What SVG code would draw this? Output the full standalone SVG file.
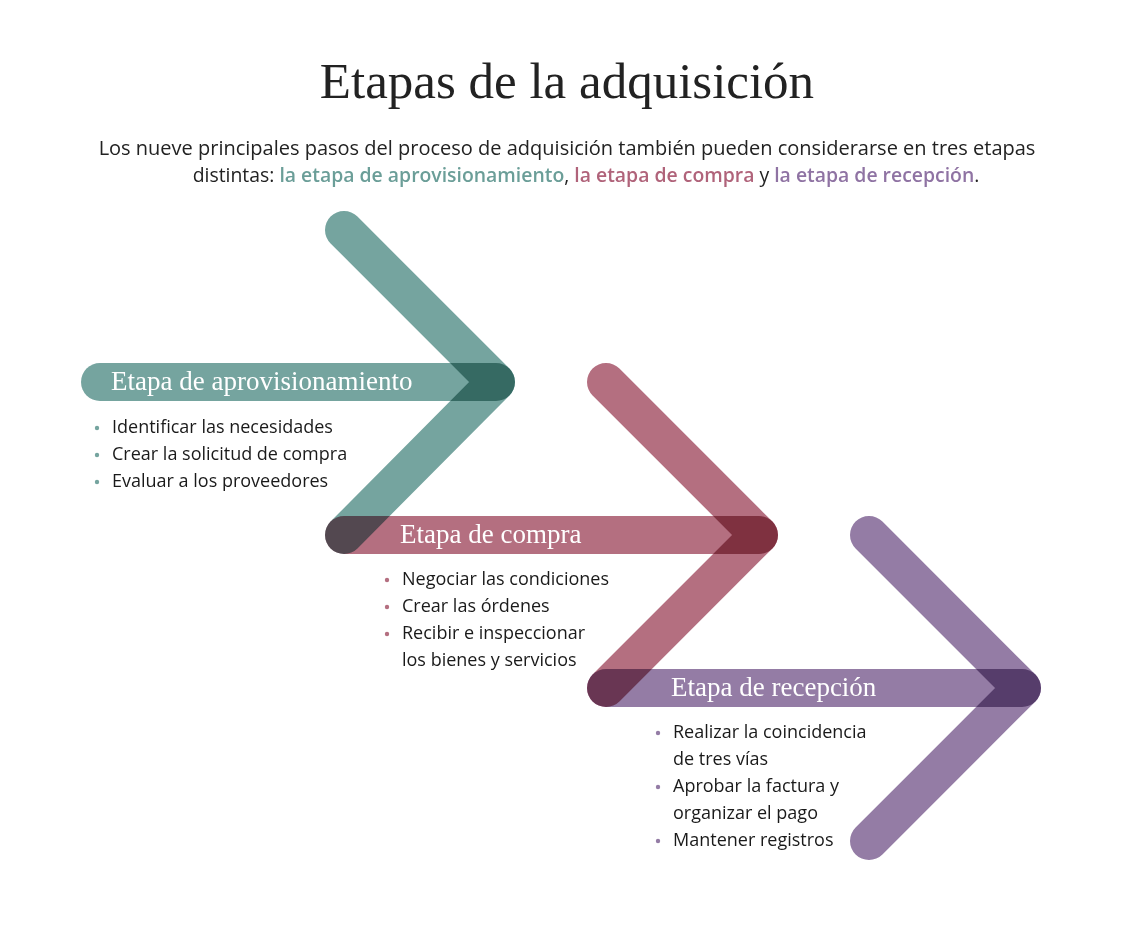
<svg xmlns="http://www.w3.org/2000/svg" width="1133" height="949" viewBox="0 0 1133 949">
<style>
.title{font-family:"Liberation Serif",serif;font-size:51px;fill:#222}
.sub{font-family:"Open Sans","Noto Sans",sans-serif;font-size:20px;fill:#222}
.b{font-weight:600}
.lbl{font-family:"Liberation Serif",serif;font-size:27px;fill:#fff}
.item{font-family:"Open Sans","Noto Sans",sans-serif;font-size:18px;fill:#1a1a1a}
.shape{fill:none;stroke-width:38;stroke-linecap:round;stroke-linejoin:round;mix-blend-mode:multiply}
.teal{stroke:#75a49f}
.pink{stroke:#b46f80}
.purple{stroke:#947ca5}
</style>
<rect width="1133" height="949" fill="#fff"/>
<text class="title" x="567" y="98" text-anchor="middle">Etapas de la adquisición</text>
<text class="sub" x="567" y="155" text-anchor="middle">Los nueve principales pasos del proceso de adquisición también pueden considerarse en tres etapas</text>
<text class="sub" x="586" y="182" text-anchor="middle" style="font-size:19.4px">distintas: <tspan class="b" fill="#6b9e98">la etapa de aprovisionamiento</tspan>, <tspan class="b" fill="#b0637a">la etapa de compra</tspan> y <tspan class="b" fill="#8f73a3">la etapa de recepción</tspan>.</text>
<g id="connectors">
<polyline class="shape teal" points="344,230 496,382 344,535"/>
<polyline class="shape pink" points="606,382 759,535 606,688"/>
<polyline class="shape purple" points="869,535 1022,688 869,841"/>
</g>
<g id="stage-aprovisionamiento">
<line class="shape teal" x1="100" y1="382" x2="496" y2="382"/>
<text class="lbl" x="111" y="390">Etapa de aprovisionamiento</text>
<g fill="#75a49f"><circle cx="97" cy="428" r="2.2"/><circle cx="97" cy="455" r="2.2"/><circle cx="97" cy="482" r="2.2"/></g>
<text class="item" x="112" y="433">Identificar las necesidades</text>
<text class="item" x="112" y="460">Crear la solicitud de compra</text>
<text class="item" x="112" y="487">Evaluar a los proveedores</text>
</g>
<g id="stage-compra">
<line class="shape pink" x1="344" y1="535" x2="759" y2="535"/>
<text class="lbl" x="400" y="543">Etapa de compra</text>
<g fill="#b46f80"><circle cx="387" cy="580" r="2.2"/><circle cx="387" cy="607" r="2.2"/><circle cx="387" cy="634" r="2.2"/></g>
<text class="item" x="402" y="585">Negociar las condiciones</text>
<text class="item" x="402" y="612">Crear las órdenes</text>
<text class="item" x="402" y="639">Recibir e inspeccionar</text>
<text class="item" x="402" y="666">los bienes y servicios</text>
</g>
<g id="stage-recepcion">
<line class="shape purple" x1="606" y1="688" x2="1022" y2="688"/>
<text class="lbl" x="671" y="696">Etapa de recepción</text>
<g fill="#947ca5"><circle cx="658" cy="733" r="2.2"/><circle cx="658" cy="787" r="2.2"/><circle cx="658" cy="841" r="2.2"/></g>
<text class="item" x="673" y="738">Realizar la coincidencia</text>
<text class="item" x="673" y="765">de tres vías</text>
<text class="item" x="673" y="792">Aprobar la factura y</text>
<text class="item" x="673" y="819">organizar el pago</text>
<text class="item" x="673" y="846">Mantener registros</text>
</g>
</svg>
